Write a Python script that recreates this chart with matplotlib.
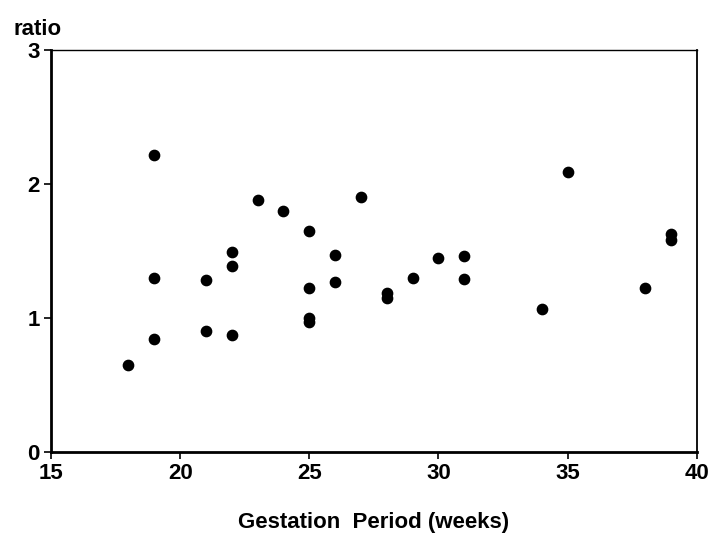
import matplotlib
matplotlib.use("Agg")
import matplotlib.pyplot as plt

# gestation period (weeks) and ratio
weeks = [18, 19, 19, 19, 21, 21, 22, 22, 22, 23, 24, 25, 25, 25, 25,
         26, 26, 27, 28, 28, 29, 30, 31, 31, 34, 35, 38, 39, 39]
ratio = [0.65, 2.22, 1.30, 0.84, 1.28, 0.90, 1.49, 1.39, 0.87, 1.88, 1.80, 1.65, 1.22, 1.00, 0.97,
         1.47, 1.27, 1.90, 1.19, 1.15, 1.30, 1.45, 1.46, 1.29, 1.07, 2.09, 1.22, 1.63, 1.58]

xticks = [15, 20, 25, 30, 35, 40]
yticks = [0, 1, 2, 3]

plt.rcParams['font.family'] = ['Liberation Sans', 'DejaVu Sans']
plt.rcParams['font.weight'] = 'bold'

fig = plt.figure(figsize=(7.11, 5.34), dpi=100)
ax = fig.add_axes([0.0717, 0.1536, 0.9083, 0.7528])

ax.scatter(weeks, ratio, s=55, color="black", zorder=3)

ax.set_xlim(15, 40)
ax.set_ylim(0, 3)
ax.set_xticks(xticks)
ax.set_yticks(yticks)
ax.tick_params(axis="both", labelsize=16, direction="out", length=5, width=1.2, pad=3)

ax.spines["left"].set_linewidth(2)
ax.spines["bottom"].set_linewidth(2)
ax.spines["top"].set_linewidth(1)
ax.spines["right"].set_linewidth(1.3)

ax.set_xlabel("Gestation  Period (weeks)", fontsize=16, fontweight="bold", labelpad=20)
ax.text(-0.058, 1.025, "ratio", transform=ax.transAxes, fontsize=16, fontweight="bold",
        ha="left", va="bottom")

fig.savefig("out.png", dpi=100)
